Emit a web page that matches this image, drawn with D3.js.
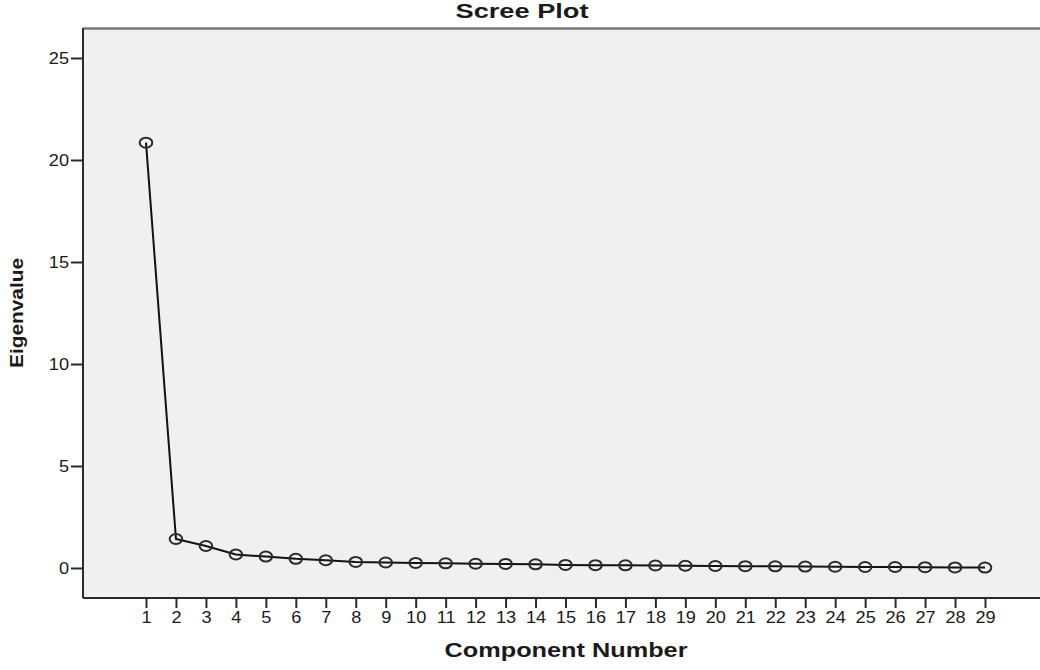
<!DOCTYPE html>
<html>
<head>
<meta charset="utf-8">
<script src="https://cdn.jsdelivr.net/npm/d3@7"></script>
<style>
  html, body { margin: 0; padding: 0; background: #fff; }
  svg { display: block; }
  text { font-family: "Liberation Sans", Arial, sans-serif; fill: #1a1a1a; }
</style>
</head>
<body>
<svg id="chart" width="1040" height="670"></svg>
<script>
const components = [1,2,3,4,5,6,7,8,9,10,11,12,13,14,15,16,17,18,19,20,21,22,23,24,25,26,27,28,29];
const eigenvalues = [20.85,1.42,1.08,0.66,0.56,0.45,0.38,0.30,0.27,0.25,0.23,0.21,0.20,0.18,0.15,0.14,0.13,0.12,0.11,0.10,0.09,0.08,0.07,0.06,0.05,0.05,0.04,0.03,0.02];
const yTicks = [0,5,10,15,20,25];
const titleText = "Scree Plot";
const xTitle = "Component Number";
const yTitle = "Eigenvalue";

const svg = d3.select("#chart");
const plot = {left: 83, right: 1040, top: 28, bottom: 598};

const x = d3.scaleLinear().domain([1, 29]).range([146, 985]);
const y = d3.scaleLinear().domain([0, 25]).range([568, 58]);

// plot background
svg.append("rect")
  .attr("x", plot.left).attr("y", plot.top)
  .attr("width", plot.right - plot.left).attr("height", plot.bottom - plot.top)
  .attr("fill", "#f0f0f0");

// top border
svg.append("line")
  .attr("x1", plot.left).attr("x2", plot.right)
  .attr("y1", plot.top + 0.5).attr("y2", plot.top + 0.5)
  .attr("stroke", "#7a7a7a").attr("stroke-width", 2.5);

// x axis
const xAxis = svg.append("g")
  .attr("transform", `translate(0,${plot.bottom})`)
  .call(d3.axisBottom(x).tickValues(components).tickFormat(d3.format("d")).tickSize(10).tickSizeOuter(0));
xAxis.select(".domain").remove();
xAxis.append("line").attr("x1", plot.left).attr("x2", plot.right).attr("y1", 0).attr("y2", 0)
  .attr("stroke", "#2a2a2a").attr("stroke-width", 2);
xAxis.selectAll(".tick line").attr("stroke", "#2a2a2a").attr("stroke-width", 2);
xAxis.selectAll(".tick text").attr("y", 13).attr("dy", "0.71em")
  .style("font-size", "16.5px").style("font-family", "Liberation Sans, Arial, sans-serif").attr("fill", "#1a1a1a")
  .each(function() {
    const w = this.getComputedTextLength();
    d3.select(this).attr("textLength", w * 1.1).attr("lengthAdjust", "spacingAndGlyphs");
  });

// y axis
const yAxis = svg.append("g")
  .attr("transform", `translate(${plot.left},0)`)
  .call(d3.axisLeft(y).tickValues(yTicks).tickFormat(d3.format("d")).tickSize(12).tickSizeOuter(0));
yAxis.select(".domain").remove();
yAxis.append("line").attr("x1", 0).attr("x2", 0).attr("y1", plot.top).attr("y2", plot.bottom)
  .attr("stroke", "#2a2a2a").attr("stroke-width", 2);
yAxis.selectAll(".tick line").attr("stroke", "#2a2a2a").attr("stroke-width", 2);
yAxis.selectAll(".tick text").attr("x", -14)
  .style("font-size", "16.5px").style("font-family", "Liberation Sans, Arial, sans-serif").attr("fill", "#1a1a1a")
  .each(function() {
    const w = this.getComputedTextLength();
    d3.select(this).attr("textLength", w * 1.1).attr("lengthAdjust", "spacingAndGlyphs");
  });

// line
const pts = components.map((c, i) => ({c, v: eigenvalues[i]}));
svg.append("path")
  .datum(pts)
  .attr("fill", "none")
  .attr("stroke", "#111")
  .attr("stroke-width", 2)
  .attr("d", d3.line().x(d => x(d.c)).y(d => y(d.v)));

// markers
svg.append("g").selectAll("ellipse")
  .data(pts)
  .join("ellipse")
  .attr("cx", d => x(d.c)).attr("cy", d => y(d.v))
  .attr("rx", 6.3).attr("ry", 5)
  .attr("fill", "none")
  .attr("stroke", "#2a2a2a")
  .attr("stroke-width", 2);

// titles
svg.append("text")
  .attr("x", 522).attr("y", 18)
  .attr("text-anchor", "middle")
  .style("font-size", "19.5px").style("font-weight", "bold")
  .attr("textLength", 133).attr("lengthAdjust", "spacingAndGlyphs")
  .text(titleText);

svg.append("text")
  .attr("x", 566).attr("y", 657)
  .attr("text-anchor", "middle")
  .style("font-size", "19.5px").style("font-weight", "bold")
  .attr("textLength", 243).attr("lengthAdjust", "spacingAndGlyphs")
  .text(xTitle);

svg.append("text")
  .attr("transform", "translate(23,313) rotate(-90)")
  .attr("text-anchor", "middle")
  .style("font-size", "17.5px").style("font-weight", "bold")
  .attr("textLength", 110).attr("lengthAdjust", "spacingAndGlyphs")
  .text(yTitle);
</script>
</body>
</html>
